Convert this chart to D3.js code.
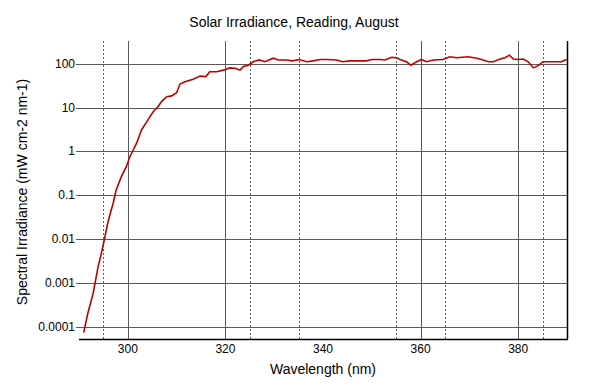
<!DOCTYPE html>
<html>
<head>
<meta charset="utf-8">
<script src="https://cdn.jsdelivr.net/npm/d3@7"></script>
<style>
  body { margin: 0; background: #fff; }
  text { font-family: "Liberation Sans", Arial, sans-serif; fill: #000; }
</style>
</head>
<body>
<svg width="600" height="388"></svg>
<script>
var svg = d3.select("svg");

// wavelength (nm) and spectral irradiance (mW cm-2 nm-1)
var wavelength = [290.96, 291.8, 292.9, 293.9, 294.6, 295.3, 295.8, 296.3, 297.0, 297.6,
  298.7, 299.7, 300.3, 301.1, 301.8, 302.8, 303.9, 305.2, 306.2, 306.9,
  308.0, 309.0, 310.0, 310.7, 311.7, 313.4, 314.8, 316.0, 316.8, 318.2,
  319.6, 320.9, 322.0, 323.0, 323.7, 324.7, 325.7, 326.9, 328.1, 329.8,
  330.8, 332.5, 333.8, 335.1, 336.7, 338.0, 339.4, 340.8, 342.8, 344.0,
  345.5, 347.2, 348.9, 350.0, 351.7, 352.7, 354.1, 355.1, 355.8, 357.2,
  358.0, 359.1, 360.2, 361.2, 362.6, 364.6, 366.0, 367.4, 369.8, 371.5,
  372.5, 373.9, 374.9, 376.3, 377.3, 378.2, 379.0, 380.0, 381.1, 382.1,
  383.1, 384.1, 385.1, 387.2, 388.9, 389.9];
var irradiance = [0.000073, 0.0002, 0.00058, 0.0023, 0.0048, 0.011, 0.021, 0.035, 0.066, 0.13,
  0.27, 0.45, 0.70, 1.08, 1.55, 3.1, 4.8, 8.1, 10.5, 13.8,
  17.8, 18.6, 21.9, 34.7, 38.9, 44.7, 52.5, 51.3, 66, 66,
  72, 81, 79, 72, 87, 93, 112, 123, 112, 135,
  123, 123, 117, 126, 112, 117, 126, 126, 123, 112,
  117, 117, 117, 126, 126, 123, 141, 138, 126, 110,
  93, 110, 126, 112, 123, 126, 145, 138, 145, 135,
  126, 112, 112, 129, 138, 158, 129, 126, 129, 110,
  81, 91, 112, 112, 112, 126];

var yTicks = [0.0001, 0.001, 0.01, 0.1, 1, 10, 100];
var yTickLabels = ["0.0001", "0.001", "0.01", "0.1", "1", "10", "100"];
var xTicks = [300, 320, 340, 360, 380];
var solidLines = [300, 320, 360, 380];
var dottedLines = [295, 325, 335, 355, 365, 385];

var pLeft = 79, pRight = 567, pTop = 41, pBottom = 339;

var x = d3.scaleLinear().domain([290, 390]).range([pLeft, pRight]);
var y = d3.scaleLog().domain([5.24e-5, 333]).range([pBottom, pTop]);

// horizontal grid
svg.append("g").selectAll("line")
  .data(yTicks)
  .enter().append("line")
    .attr("x1", pLeft - 3).attr("x2", pRight)
    .attr("y1", function(d) { return Math.round(y(d)) + 0.5; })
    .attr("y2", function(d) { return Math.round(y(d)) + 0.5; })
    .style("stroke", "#5a5a5a").style("stroke-width", 1);

// vertical grid, solid
svg.append("g").selectAll("line")
  .data(solidLines)
  .enter().append("line")
    .attr("x1", function(d) { return Math.round(x(d)) + 0.5; })
    .attr("x2", function(d) { return Math.round(x(d)) + 0.5; })
    .attr("y1", pTop).attr("y2", pBottom)
    .style("stroke", "#5a5a5a").style("stroke-width", 1);

// vertical grid, dotted
svg.append("g").selectAll("line")
  .data(dottedLines)
  .enter().append("line")
    .attr("x1", function(d) { return Math.round(x(d)) + 0.5; })
    .attr("x2", function(d) { return Math.round(x(d)) + 0.5; })
    .attr("y1", pTop).attr("y2", pBottom)
    .style("stroke", "#5a5a5a").style("stroke-width", 1)
    .style("stroke-dasharray", "2,2");

// curve
var line = d3.line()
  .x(function(d, i) { return x(wavelength[i]); })
  .y(function(d) { return y(d); });

svg.append("path")
  .datum(irradiance)
  .attr("d", line)
  .style("fill", "none")
  .style("stroke", "#c00000")
  .style("stroke-width", 1.6);

// bottom axis + right border
svg.append("line")
  .attr("x1", pLeft).attr("x2", pRight + 1)
  .attr("y1", pBottom + 0.5).attr("y2", pBottom + 0.5)
  .style("stroke", "#000").style("stroke-width", 1.5);
svg.append("line")
  .attr("x1", pRight + 0.5).attr("x2", pRight + 0.5)
  .attr("y1", pTop).attr("y2", pBottom)
  .style("stroke", "#000").style("stroke-width", 1.5);

// tick labels
svg.append("g").selectAll("text")
  .data(xTicks)
  .enter().append("text")
    .attr("x", function(d) { return x(d); })
    .attr("y", 353)
    .attr("text-anchor", "middle")
    .style("font-size", "12px")
    .text(function(d) { return d; });

svg.append("g").selectAll("text")
  .data(yTicks)
  .enter().append("text")
    .attr("x", 75)
    .attr("y", function(d) { return y(d) + 4; })
    .attr("text-anchor", "end")
    .style("font-size", "12px")
    .text(function(d, i) { return yTickLabels[i]; });

// titles
svg.append("text").text("Solar Irradiance, Reading, August")
  .attr("x", 294).attr("y", 27)
  .attr("text-anchor", "middle").style("font-size", "14px");

svg.append("text").text("Wavelength (nm)")
  .attr("x", 323).attr("y", 374)
  .attr("text-anchor", "middle").style("font-size", "14px");

svg.append("text").text("Spectral Irradiance (mW cm-2 nm-1)")
  .attr("transform", "translate(27,192) rotate(-90)")
  .attr("text-anchor", "middle").style("font-size", "14px");
</script>
</body>
</html>
